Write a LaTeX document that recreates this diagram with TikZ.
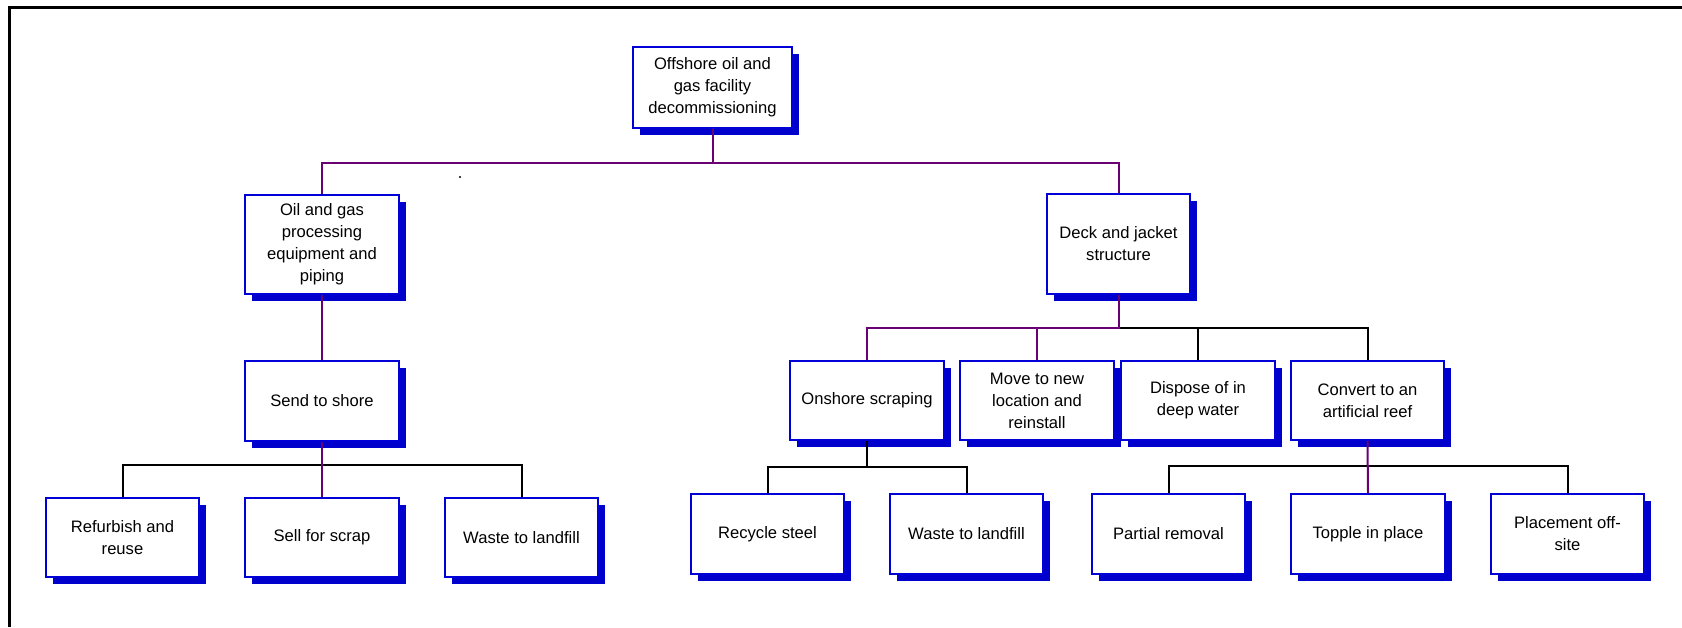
\documentclass[tikz,border=0pt]{standalone}
\usepackage{fontspec}
\setmainfont{Liberation Sans}
\usetikzlibrary{shadows}
\definecolor{boxblue}{RGB}{0,0,215}
\definecolor{shblue}{RGB}{0,0,205}
\definecolor{conpurple}{RGB}{105,0,115}
\begin{document}
\begin{tikzpicture}[x=1pt,y=-1pt,
  box/.style={draw=boxblue, line width=1.6pt, fill=white, align=center,
    inner sep=2pt, font=\fontsize{16.6}{22}\selectfont,
    general shadow={fill=shblue, shadow xshift=7pt, shadow yshift=-7pt}},
  pcon/.style={draw=conpurple, line width=2pt},
  bcon/.style={draw=black, line width=2pt},
  frameline/.style={draw=black, line width=3pt}]
\useasboundingbox (0,0) rectangle (1682,627);
\draw[frameline] (9,627) -- (9,7) -- (1682,7);
\fill (460,177) circle (1.2);

\node[box, minimum width=159pt, minimum height=81pt] (top) at (712.5,87.5) {Offshore oil and\\gas facility\\decommissioning};
\node[box, minimum width=154pt, minimum height=99pt] (oil) at (322,244.5) {Oil and gas\\processing\\equipment and\\piping};
\node[box, minimum width=143pt, minimum height=100pt] (deck) at (1118.5,244) {Deck and jacket\\structure};
\node[box, minimum width=154pt, minimum height=80pt] (send) at (322,401) {Send to shore};
\node[box, minimum width=154pt, minimum height=79pt] (onshore) at (867,400.5) {Onshore scraping};
\node[box, minimum width=154pt, minimum height=79pt] (move) at (1037,400.5) {Move to new\\location and\\reinstall};
\node[box, minimum width=154pt, minimum height=79pt] (dispose) at (1198,400.5) {Dispose of in\\deep water};
\node[box, minimum width=153pt, minimum height=79pt] (convert) at (1367.5,400.5) {Convert to an\\artificial reef};
\node[box, minimum width=153pt, minimum height=79pt] (refurb) at (122.5,537.5) {Refurbish and\\reuse};
\node[box, minimum width=154pt, minimum height=79pt] (sell) at (322,537.5) {Sell for scrap};
\node[box, minimum width=153pt, minimum height=79pt] (wasteA) at (521.5,537.5) {Waste to landfill};
\node[box, minimum width=153pt, minimum height=80pt] (recycle) at (767.5,534) {Recycle steel};
\node[box, minimum width=153pt, minimum height=80pt] (wasteB) at (966.5,534) {Waste to landfill};
\node[box, minimum width=153pt, minimum height=80pt] (partial) at (1168.5,534) {Partial removal};
\node[box, minimum width=154pt, minimum height=80pt] (topple) at (1368,534) {Topple in place};
\node[box, minimum width=153pt, minimum height=80pt] (placement) at (1567.5,534) {Placement off-\\site};

\coordinate (h1) at (0,163);
\coordinate (h2) at (0,328);
\coordinate (h3) at (0,465);
\coordinate (h4) at (0,467);
\coordinate (h5) at (0,466);

% level 1
\draw[pcon] (oil.north) -- (oil.north |- h1) -- (deck.north |- h1) -- (deck.north);
\draw[pcon] (top.south) -- (top.south |- h1);
% oil -> send
\draw[pcon] (oil.south) -- (send.north);
% send -> children
\draw[bcon] (refurb.north) -- (refurb.north |- h3) -- (wasteA.north |- h3) -- (wasteA.north);
\draw[pcon] (send.south) -- (sell.north);
% deck -> children
\draw[bcon] (deck.south |- h2) -- (convert.north |- h2) -- (convert.north);
\draw[bcon] (dispose.north |- h2) -- (dispose.north);
\draw[pcon] (deck.south) -- (deck.south |- h2) -- (onshore.north |- h2) -- (onshore.north);
\draw[pcon] (move.north |- h2) -- (move.north);
% onshore -> children
\draw[bcon] (onshore.south) -- (onshore.south |- h4);
\draw[bcon] (recycle.north) -- (recycle.north |- h4) -- (wasteB.north |- h4) -- (wasteB.north);
% convert -> children
\draw[bcon] (partial.north) -- (partial.north |- h5) -- (placement.north |- h5) -- (placement.north);
\draw[pcon] (convert.south) -- (topple.north);
\end{tikzpicture}
\end{document}
